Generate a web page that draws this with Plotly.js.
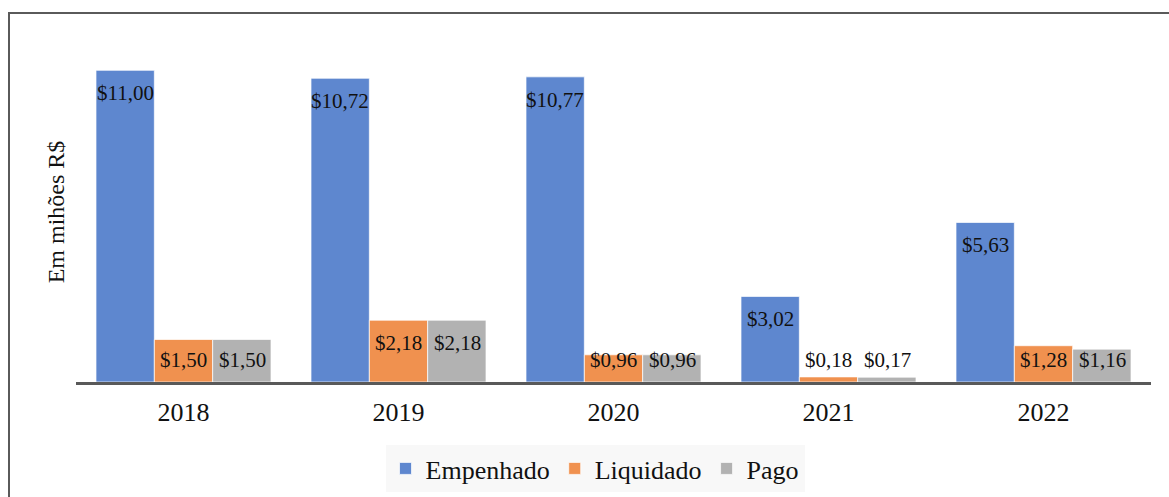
<!DOCTYPE html>
<html>
<head>
<meta charset="utf-8">
<script src="https://cdn.plot.ly/plotly-3.0.1.min.js"></script>
<style>
  html, body { margin: 0; padding: 0; background: #ffffff; overflow: hidden; }
  #frame { position: absolute; left: 8px; top: 12px; width: 1200px; height: 520px;
           border-left: 2px solid #5a5a5a; border-top: 2px solid #5a5a5a; box-sizing: border-box; }
  #chart { position: absolute; left: 0; top: 0; width: 1169px; height: 497px; }
</style>
</head>
<body>
<div id="frame"></div>
<div id="chart"></div>
<script>
const years = ['2018', '2019', '2020', '2021', '2022'];
const empenhado = [11.00, 10.72, 10.77, 3.02, 5.63];
const liquidado = [1.50, 2.18, 0.96, 0.18, 1.28];
const pago = [1.50, 2.18, 0.96, 0.17, 1.16];
const seriesNames = ['Empenhado', 'Liquidado', 'Pago'];
const seriesColors = ['#5E87CF', '#F0914F', '#B2B2B2'];
const seriesValues = [empenhado, liquidado, pago];

function fmt(v) { return '$' + v.toFixed(2).replace('.', ','); }

const traces = seriesValues.map((vals, i) => ({
  type: 'bar',
  name: seriesNames[i],
  x: years,
  y: vals,
  marker: { color: seriesColors[i], line: { color: 'rgba(255,255,255,0.7)', width: 1 } },
  hoverinfo: 'none'
}));

const barShift = [-58.5, 0, 58.5];
const annotations = [];
seriesValues.forEach((vals, i) => {
  vals.forEach((v, j) => {
    const big = v >= 1.65;
    annotations.push({
      x: j, y: big ? v : 0, xref: 'x', yref: 'y',
      text: fmt(v), showarrow: false,
      xshift: barShift[i], yshift: big ? -23 : 22,
      yanchor: 'middle', xanchor: 'center',
      font: { family: 'Liberation Serif, Times New Roman, serif', size: 21, color: '#111111' }
    });
  });
});

const layout = {
  width: 1169, height: 497,
  margin: { l: 76, r: 18, t: 42, b: 115 },
  paper_bgcolor: 'rgba(0,0,0,0)',
  plot_bgcolor: 'rgba(0,0,0,0)',
  barmode: 'group',
  bargap: 0.186,
  bargroupgap: 0,
  font: { family: 'Liberation Serif, Times New Roman, serif', color: '#111111' },
  xaxis: {
    type: 'category',
    range: [-0.5, years.length - 0.5],
    showline: true, linecolor: '#595959', linewidth: 3,
    ticks: 'outside', ticklen: 5, tickcolor: 'rgba(0,0,0,0)',
    tickfont: { size: 26, color: '#111111' },
    showgrid: false, zeroline: false, fixedrange: true, automargin: false
  },
  yaxis: {
    range: [0, 12],
    showticklabels: false, showgrid: false, zeroline: false, showline: false, ticks: '',
    title: { text: 'Em mihões R$\u00a0\u00a0\u00a0', font: { size: 24, color: '#111111' }, standoff: 3 },
    automargin: false, fixedrange: true
  },
  showlegend: true,
  legend: {
    orientation: 'h', xref: 'container', yref: 'container',
    x: 0.509, xanchor: 'center', y: 1 - 445 / 497, yanchor: 'top',
    bgcolor: '#f8f8f8', font: { size: 26, color: '#111111' },
    itemwidth: 30, tracegroupgap: 0
  },
  annotations: annotations
};

Plotly.newPlot('chart', traces, layout, { displayModeBar: false, staticPlot: true });
</script>
</body>
</html>
